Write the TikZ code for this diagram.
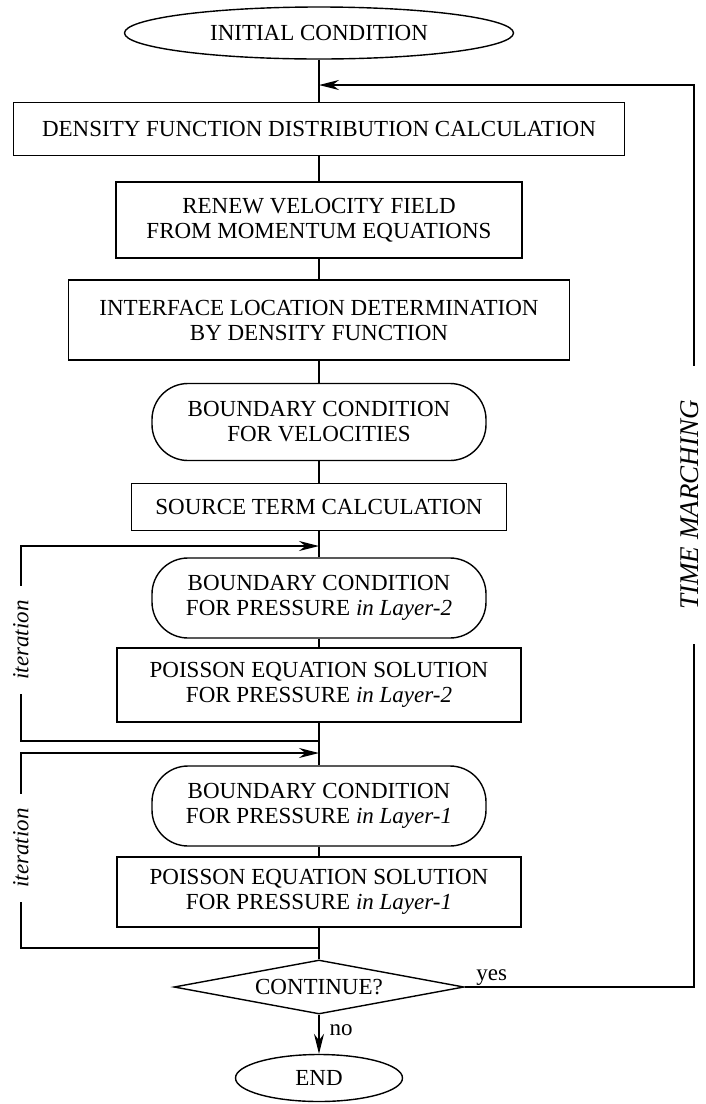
\documentclass[tikz,border=0pt]{standalone}
\usepackage{fontspec}
\setmainfont{Liberation Serif}
\usetikzlibrary{shapes.geometric,arrows.meta}

\begin{document}
\begin{tikzpicture}[x=1pt, y=-1pt, line width=1.4pt,
        every node/.style={font=\fontsize{23}{25}\selectfont, align=center, inner sep=0pt},
        term/.style={draw, ellipse},
        box/.style={draw, rectangle},
        bc/.style={draw, rectangle, rounded corners=36pt, minimum width=334pt, minimum height=80pt},
        decision/.style={draw, diamond, aspect=5.4},
        looplbl/.style={rotate=90, font=\fontsize{23}{25}\selectfont\itshape, inner xsep=14pt},
        arr/.style={-{Stealth[length=20pt, width=10pt]}}]
            \useasboundingbox (0,0) rectangle (705,1104);

            \node[term, minimum width=389pt, minimum height=52pt] (init) at (319,33) {INITIAL CONDITION};
            \node[box, minimum width=611pt, minimum height=53pt] (dens) at (319,129) {DENSITY FUNCTION DISTRIBUTION CALCULATION};
            \node[box, minimum width=406pt, minimum height=76pt] (renew) at (319,220) {RENEW VELOCITY FIELD\\FROM MOMENTUM EQUATIONS};
            \node[box, minimum width=501pt, minimum height=80pt] (iface) at (319,320) {INTERFACE LOCATION DETERMINATION\\BY DENSITY FUNCTION};
            \node[bc, minimum height=77pt] (bcvel) at (319,422) {BOUNDARY CONDITION\\FOR VELOCITIES};
            \node[box, minimum width=375pt, minimum height=47pt] (src) at (319,507) {SOURCE TERM CALCULATION};
            \node[bc] (bcp2) at (319,598) {BOUNDARY CONDITION\\FOR PRESSURE \textit{in Layer-2}};
            \node[box, minimum width=404pt, minimum height=74pt] (poi2) at (319,685) {POISSON EQUATION SOLUTION\\FOR PRESSURE \textit{in Layer-2}};
            \node[bc] (bcp1) at (319,806) {BOUNDARY CONDITION\\FOR PRESSURE \textit{in Layer-1}};
            \node[box, minimum width=404pt, minimum height=70pt] (poi1) at (319,892) {POISSON EQUATION SOLUTION\\FOR PRESSURE \textit{in Layer-1}};
            \node[decision, minimum width=290pt, minimum height=54pt] (cont) at (319,987) {CONTINUE?};
            \node[term, minimum width=167pt, minimum height=47pt] (end) at (319,1078) {END};

            \draw (init) -- (dens);
            \draw (dens) -- (renew);
            \draw (renew) -- (iface);
            \draw (iface) -- (bcvel);
            \draw (bcvel) -- (src);
            \draw (src) -- (bcp2);
            \draw (bcp2) -- (poi2);
            \draw (poi2) -- (bcp1);
            \draw (bcp1) -- (poi1);
            \draw (poi1) -- (cont);
            \draw[arr] (cont) -- node[anchor=west, xshift=10pt, yshift=4pt] (nolbl) {no} (end);

            % time marching loop
            \coordinate (tmin) at (319,85);
            \coordinate (tmtop) at (694,85);
            \node[rotate=90, font=\fontsize{27}{29}\selectfont\itshape, inner xsep=34pt] (tmlbl) at (690,505) {TIME MARCHING};
            \node[anchor=south west, xshift=11pt, yshift=1pt] (yeslbl) at (cont.east) {yes};
            \draw (cont.east) -- (cont.east -| tmtop) -- (tmtop |- tmlbl.west);
            \draw[arr] (tmtop |- tmlbl.east) -- (tmtop) -- (tmin);

            % iteration loops
            \coordinate (it2in) at (319,546);
            \coordinate (it2out) at (319,741);
            \node[looplbl] (it2lbl) at (21,640) {iteration};
            \draw (it2out) -- (it2out -| it2lbl) -- (it2lbl.west);
            \draw[arr] (it2lbl.east) -- (it2lbl.east |- it2in) -- (it2in);

            \coordinate (it1in) at (319,753);
            \coordinate (it1out) at (319,948);
            \node[looplbl] (it1lbl) at (21,848) {iteration};
            \draw (it1out) -- (it1out -| it1lbl) -- (it1lbl.west);
            \draw[arr] (it1lbl.east) -- (it1lbl.east |- it1in) -- (it1in);
        \end{tikzpicture}
\end{document}
